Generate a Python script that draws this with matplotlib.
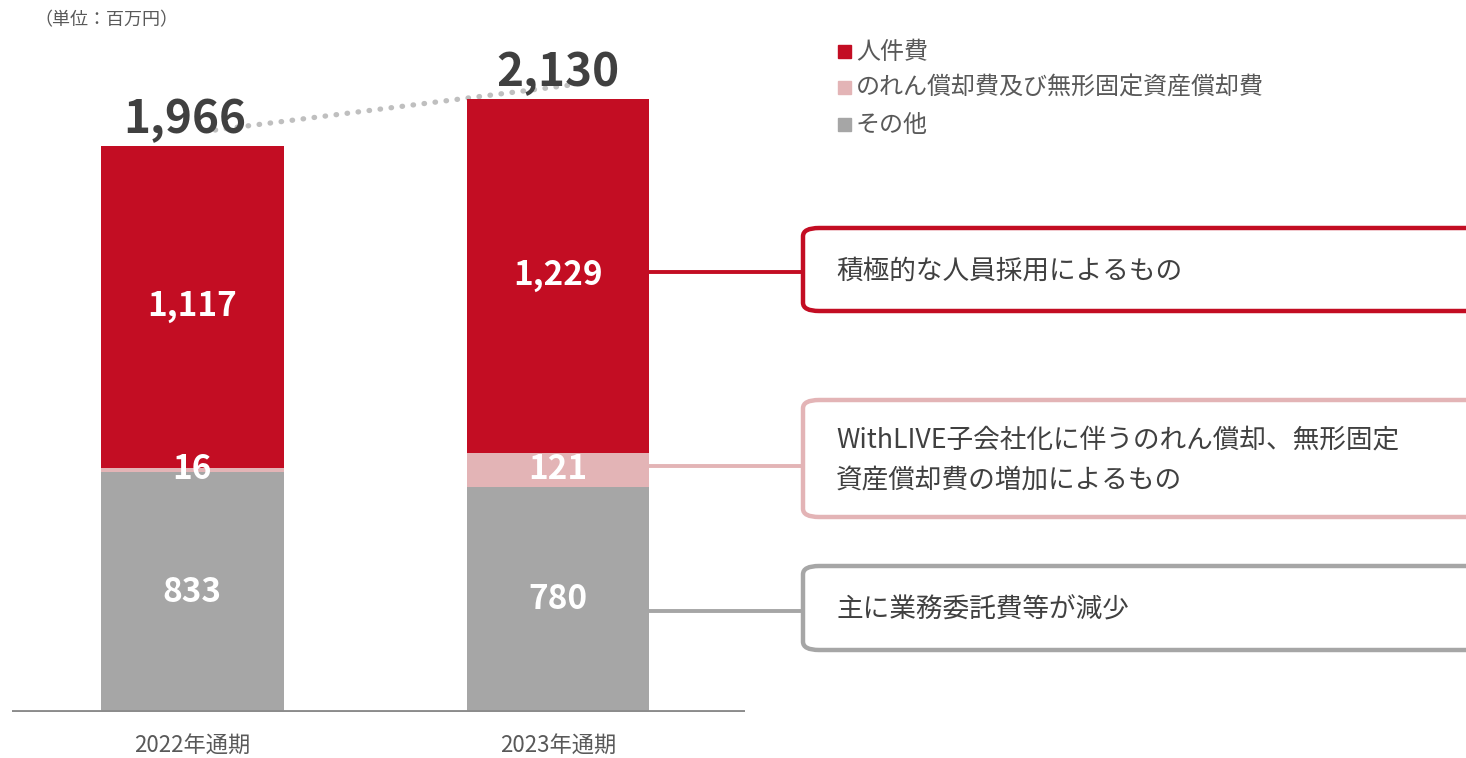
import matplotlib
matplotlib.use("Agg")
import matplotlib.pyplot as plt
from matplotlib.patches import FancyBboxPatch, Rectangle
from matplotlib.lines import Line2D

plt.rcParams['font.family'] = ['Noto Sans CJK JP', 'DejaVu Sans']

# ---- data ----
periods = ["2022年通期", "2023年通期"]
other = [833, 780]
amort = [16, 121]
personnel = [1117, 1229]
totals = [1966, 2130]
legend_labels = ["人件費", "のれん償却費及び無形固定資産償却費", "その他"]
notes = ["積極的な人員採用によるもの",
         "WithLIVE子会社化に伴うのれん償却、無形固定\n資産償却費の増加によるもの",
         "主に業務委託費等が減少"]
unit_label = "（単位：百万円）"

RED = "#C30D23"
PINK = "#E3B4B6"
GRAY = "#A6A6A6"
TXT = "#595959"
DARK = "#404040"

W, H = 1466, 758
fig = plt.figure(figsize=(W / 100, H / 100), dpi=100)

# axes placed in pixel terms: left 12, right 745, baseline at y=712
ax = fig.add_axes([12 / W, (H - 712) / H, 733 / W, (712 - 20) / H])
ax.set_xlim(-0.492, 1.511)
ax.set_ylim(0, 2403)
ax.axis('off')

x = [0, 1]
bw = 0.5
ax.bar(x, other, bw, color=GRAY, zorder=2)
ax.bar(x, amort, bw, bottom=other, color=PINK, zorder=2)
bot2 = [o + a for o, a in zip(other, amort)]
ax.bar(x, personnel, bw, bottom=bot2, color=RED, zorder=2)

# segment labels
for i in range(2):
    for val, base in [(other[i], 0), (amort[i], other[i]), (personnel[i], bot2[i])]:
        ax.text(x[i], base + val / 2, f"{val:,}", ha='center', va='center',
                color='white', fontsize=24, fontweight='bold', zorder=3)
    ax.annotate(f"{totals[i]:,}", (x[i], totals[i]), xytext=(-5 if i == 0 else 0, 9),
                textcoords='offset points', ha='center', va='baseline',
                color=DARK, fontsize=33, fontweight='bold', zorder=3)

# dotted trend line between totals
ax.plot([x[0] + 0.063, x[1] + 0.033], [totals[0] + 55, totals[1] + 47],
        color="#BFBFBF", lw=3.8, ls=(0, (0.1, 2.0)), dash_capstyle='round', zorder=1)

# baseline
ax.axhline(0, color="#8C8C8C", lw=2.8, zorder=3)

# category labels
for i in range(2):
    ax.annotate(periods[i], (x[i], 0), xytext=(0, -25), textcoords='offset points',
                ha='center', va='center', color=TXT, fontsize=16)

fig.text(34 / W, 1 - 20 / H, unit_label, ha='left', va='center', color=TXT, fontsize=13)

# legend
leg_y = [52, 88, 125]
for c, lab, yy in zip([RED, PINK, GRAY], legend_labels, leg_y):
    fig.patches.append(Rectangle((838 / W, 1 - (yy + 6) / H), 13 / W, 13 / H,
                                 transform=fig.transFigure, color=c, zorder=2))
    fig.text(856 / W, 1 - yy / H, lab, ha='left', va='center', color=TXT, fontsize=17.3)

# note boxes + connectors
boxes = [(228, 311, 272, RED), (400, 517, 466, PINK), (566, 650, 611, GRAY)]
for (top, bot, ly, c), note in zip(boxes, notes):
    fig.patches.append(FancyBboxPatch((803 / W, 1 - bot / H), 700 / W, (bot - top) / H,
                                      boxstyle="round,pad=0,rounding_size=0.011",
                                      transform=fig.transFigure, facecolor='white',
                                      edgecolor=c, lw=3.2, zorder=2))
    fig.lines.append(Line2D([650 / W, 803 / W], [1 - ly / H, 1 - ly / H],
                            transform=fig.transFigure, color=c, lw=2.8, zorder=1))
    cy = (top + bot) / 2
    fig.text(836 / W, 1 - (cy + 2) / H, note, ha='left', va='center', color=DARK,
             fontsize=19.2, linespacing=1.62, zorder=3)

fig.savefig("out.png", dpi=100)
